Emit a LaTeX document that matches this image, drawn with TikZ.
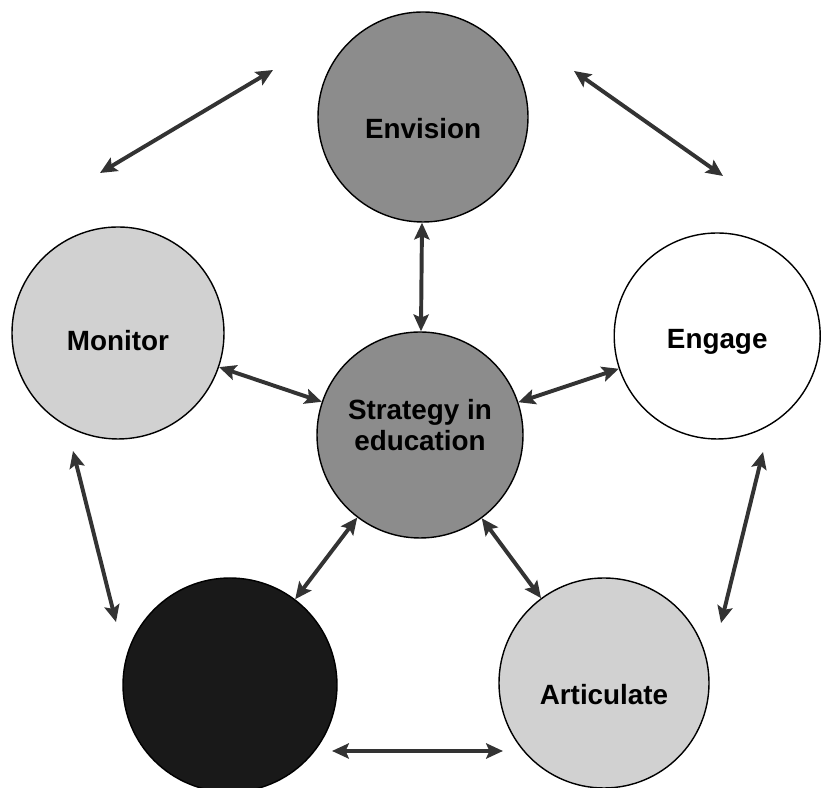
\documentclass[tikz,border=0pt]{standalone}
\usepackage{fontspec}
\setmainfont{Liberation Sans}
\usetikzlibrary{arrows.meta}
\tikzset{>={Stealth[length=4.2mm,width=3.8mm,inset=.8mm]},every node/.style={font=\bfseries\fontsize{19.8}{21.5}\selectfont},
  ball/.style={circle,draw,line width=1pt,minimum size=5.25cm,inner sep=0pt},
  midball/.style={ball,fill=black!45},lightball/.style={ball,fill=black!18},
  link/.style={<->,line width=2.8pt,draw=black!80}}

\begin{document}
\begin{tikzpicture}
\useasboundingbox (0,0) rectangle (20.525,19.7);
\node[midball,label={[yshift=-.28cm]center:Envision}] (env) at (10.575,16.775){};
\node[midball,minimum size=5.15cm,label={[yshift=.25cm,align=center]center:Strategy in\\education}] (strat) at (10.5,8.825){};
\node[lightball,minimum size=5.3cm,label={[yshift=-.2cm]center:Monitor}] (mon) at (2.95,11.375){};
\node[ball,fill=white,minimum size=5.15cm,label={[yshift=-.15cm]center:Engage}] (eng) at (17.93,11.3){};
\node[lightball,label={[yshift=-.3cm]center:Articulate}] (art) at (15.1,2.625){};
\node[ball,fill=black!90,minimum size=5.35cm] (imp) at (5.75,2.575){};
\foreach \n in {env,mon,eng,art,imp} \draw[link] (strat)--(\n);
% free arrows round the ring
\coordinate (tl1) at (2.5,15.375);\coordinate (tl2) at (6.825,17.95);\draw[link] (tl1)--(tl2);
\coordinate (tr1) at (14.35,17.925);\coordinate (tr2) at (18.075,15.3);\draw[link] (tr1)--(tr2);
\coordinate (l1) at (1.825,8.425);\coordinate (l2) at (2.9,4.15);\draw[link] (l1)--(l2);
\coordinate (r1) at (19.075,8.4);\coordinate (r2) at (18.025,4.125);\draw[link] (r1)--(r2);
\coordinate (b1) at (8.3,0.925);\coordinate (b2) at (12.575,0.925);\draw[link] (b1)--(b2);
\end{tikzpicture}
\end{document}
